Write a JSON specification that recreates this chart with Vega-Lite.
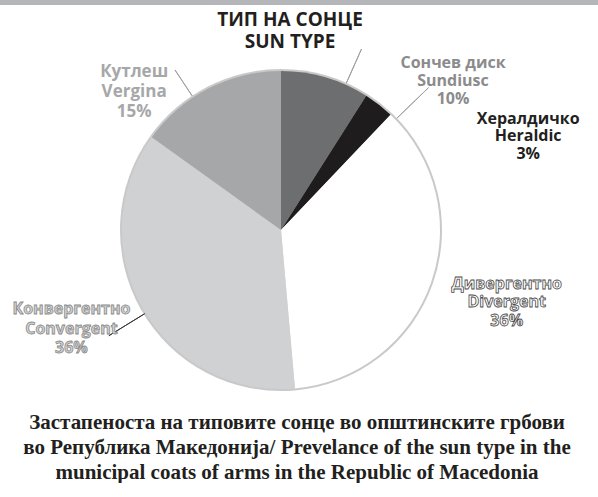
{
  "$schema": "https://vega.github.io/schema/vega-lite/v6.json",
  "padding": 0,
  "background": "white",
  "spacing": -5,
  "config": {"view": {"stroke": null}},
  "vconcat": [
    {
      "width": 598,
      "height": 5,
      "data": {"values": [{"band": "top"}]},
      "mark": {"type": "rect", "color": "#b5b6b9"},
      "encoding": {
        "x": {"value": 0},
        "x2": {"value": "width"},
        "y": {"value": 0},
        "y2": {"value": "height"}
      },
      "title": {
        "text": ["ТИП НА СОНЦЕ", "SUN TYPE"],
        "orient": "bottom",
        "anchor": "middle",
        "frame": "group",
        "font": "Open Sans",
        "fontSize": 19,
        "fontWeight": "bold",
        "color": "#231f20",
        "lineHeight": 22,
        "offset": 6,
        "dx": -9
      }
    },
    {
      "width": 562,
      "height": 344,
      "data": {
        "values": [
          {"type": "Sundiusc", "order": 1, "share": 9.0, "label": ["Сончев диск", "Sundiusc", "10%"]},
          {"type": "Heraldic", "order": 2, "share": 3.1, "label": ["Хералдичко", "Heraldic", "3%"]},
          {"type": "Divergent", "order": 3, "share": 36.5, "label": ["Дивергентно", "Divergent", "36%"]},
          {"type": "Convergent", "order": 4, "share": 36.3, "label": ["Конвергентно", "Convergent", "36%"]},
          {"type": "Vergina", "order": 5, "share": 15.1, "label": ["Кутлеш", "Vergina", "15%"]}
        ]
      },
      "transform": [
        {"stack": "share", "groupby": [], "sort": [{"field": "order", "order": "ascending"}], "as": ["s0", "s1"]}
      ],
      "layer": [
        {
          "mark": {"type": "arc", "radius": 161, "color": "#c9c9c9"},
          "encoding": {
            "theta": {"field": "s0", "type": "quantitative", "scale": {"domain": [0, 100]}},
            "theta2": {"field": "s1"}
          }
        },
        {
          "mark": {"type": "arc", "radius": 159},
          "encoding": {
            "theta": {"field": "s0", "type": "quantitative"},
            "theta2": {"field": "s1"},
            "color": {
              "field": "type",
              "type": "nominal",
              "scale": {
                "domain": ["Sundiusc", "Heraldic", "Divergent", "Convergent", "Vergina"],
                "range": ["#6d6e70", "#1f1c1d", "#ffffff", "#d0d1d3", "#a6a7a9"]
              },
              "legend": null
            }
          }
        },
        {
          "transform": [{"filter": "datum.type == 'Sundiusc'"}],
          "mark": {"type": "arc", "radius": 198, "radius2": 161, "filled": false, "color": "#a0a0a0", "strokeWidth": 1, "thetaOffset": -0.147, "theta2Offset": -0.147},
          "encoding": {"theta": {"field": "s1", "type": "quantitative"}, "theta2": {"field": "s1"}}
        },
        {
          "transform": [{"filter": "datum.type == 'Heraldic'"}],
          "mark": {"type": "arc", "radius": 205, "radius2": 161, "filled": false, "color": "#a0a0a0", "strokeWidth": 1, "thetaOffset": 0.043, "theta2Offset": 0.043},
          "encoding": {"theta": {"field": "s1", "type": "quantitative"}, "theta2": {"field": "s1"}}
        },
        {
          "transform": [{"filter": "datum.type == 'Vergina'"}],
          "mark": {"type": "arc", "radius": 192, "radius2": 161, "filled": false, "color": "#a0a0a0", "strokeWidth": 1, "thetaOffset": -0.585, "theta2Offset": -0.585},
          "encoding": {"theta": {"field": "s1", "type": "quantitative"}, "theta2": {"field": "s1"}}
        },
        {
          "transform": [{"filter": "datum.type == 'Convergent'"}],
          "mark": {"type": "arc", "radius": 202, "radius2": 160, "filled": false, "color": "#3a3a3a", "strokeWidth": 1, "thetaOffset": 1.108, "theta2Offset": 1.108},
          "encoding": {"theta": {"field": "s0", "type": "quantitative"}, "theta2": {"field": "s0"}}
        },
        {
          "transform": [{"filter": "datum.type == 'Sundiusc'"}],
          "mark": {"type": "text", "radius": 240, "thetaOffset": 0.799, "font": "Open Sans", "fontWeight": "bold", "fontSize": 16, "lineHeight": 18, "color": "#8b8b8d", "align": "center", "baseline": "middle"},
          "encoding": {"theta": {"field": "s0", "type": "quantitative"}, "text": {"field": "label"}}
        },
        {
          "transform": [{"filter": "datum.type == 'Heraldic'"}],
          "mark": {"type": "text", "radius": 271, "thetaOffset": 0.583, "font": "Open Sans", "fontWeight": "bold", "fontSize": 16, "lineHeight": 17.5, "color": "#231f20", "align": "center", "baseline": "middle"},
          "encoding": {"theta": {"field": "s0", "type": "quantitative"}, "text": {"field": "label"}}
        },
        {
          "transform": [{"filter": "datum.type == 'Divergent'"}],
          "mark": {"type": "text", "radius": 232, "thetaOffset": 1.044, "font": "Open Sans", "fontWeight": "bold", "fontSize": 16, "lineHeight": 18.5, "fill": "#ffffff", "stroke": "#4a4a4a", "strokeWidth": 0.8, "align": "center", "baseline": "middle"},
          "encoding": {"theta": {"field": "s0", "type": "quantitative"}, "text": {"field": "label"}}
        },
        {
          "transform": [{"filter": "datum.type == 'Convergent'"}],
          "mark": {"type": "text", "radius": 224, "thetaOffset": 1.298, "font": "Open Sans", "fontWeight": "bold", "fontSize": 16, "lineHeight": 19.5, "fill": "#d2d2d2", "stroke": "#8a8a8a", "strokeWidth": 0.8, "align": "center", "baseline": "middle"},
          "encoding": {"theta": {"field": "s0", "type": "quantitative"}, "text": {"field": "label"}}
        },
        {
          "transform": [{"filter": "datum.type == 'Vergina'"}],
          "mark": {"type": "text", "radius": 216, "thetaOffset": 0.201, "font": "Open Sans", "fontWeight": "bold", "fontSize": 17, "lineHeight": 20, "color": "#a7a7a9", "align": "center", "baseline": "middle"},
          "encoding": {"theta": {"field": "s0", "type": "quantitative"}, "text": {"field": "label"}}
        }
      ],
      "title": {
        "text": [
          "Застапеноста на типовите сонце во општинските грбови",
          "во Република Македонија/ Prevelance of the sun type in the",
          "municipal  coats of arms in the Republic of Macedonia"
        ],
        "orient": "bottom",
        "anchor": "middle",
        "frame": "group",
        "font": "Liberation Serif",
        "fontSize": 21,
        "fontWeight": "bold",
        "color": "#231f20",
        "lineHeight": 25,
        "offset": 10,
        "dx": 16
      }
    }
  ]
}
